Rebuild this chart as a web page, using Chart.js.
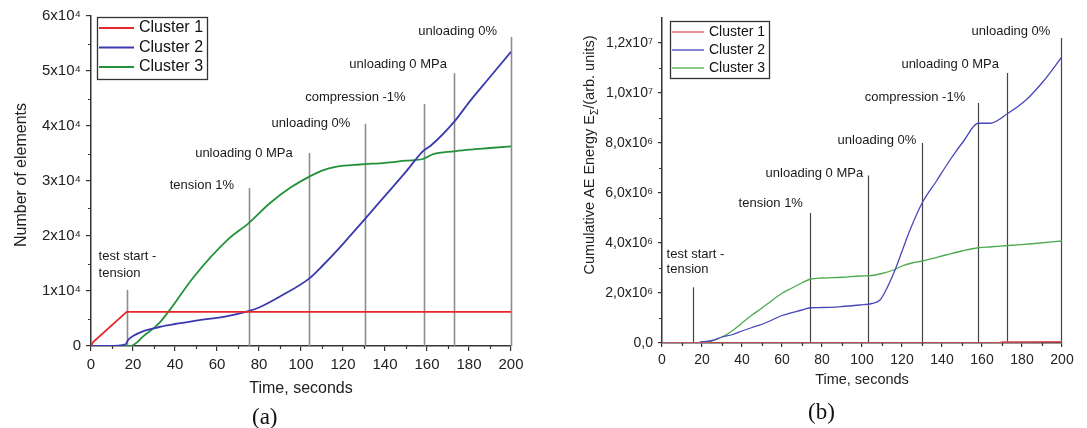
<!DOCTYPE html>
<html>
<head>
<meta charset="utf-8">
<script src="https://cdn.jsdelivr.net/npm/chart.js@4.4.1/dist/chart.umd.min.js"></script>
<style>
  html, body { margin: 0; padding: 0; background: #fff; }
  body { width: 1087px; height: 428px; position: relative; overflow: hidden; }
  #leftBox { position: absolute; left: 0; top: 0; width: 540px; height: 428px; }
  #rightBox { position: absolute; left: 540px; top: 0; width: 547px; height: 428px; }
  .tag { position: absolute; line-height: 26px; font-family: 'Liberation Serif', 'Times New Roman', serif; font-size: 23px; color: #111; }
</style>
</head>
<body>
<div id="leftBox"><canvas id="leftChart" width="540" height="428"></canvas></div>
<div id="rightBox"><canvas id="rightChart" width="547" height="428"></canvas></div>
<div class="tag" style="left:252px; top:404px">(a)</div>
<div class="tag" style="left:808px; top:399px">(b)</div>
<script>
// (a) number of elements
const leftTime1 = [0, 1, 17, 200];
const leftCluster1 = [0, 700, 6200, 6200];
const leftTime2 = [0, 8, 16.5, 17.5, 20, 25, 30, 33, 40, 49, 65, 75, 80, 90, 104, 110, 117, 124, 130, 140, 150, 158, 162, 173, 180, 190, 200];
const leftCluster2 = [0, 0, 300, 1000, 1800, 2700, 3200, 3500, 4000, 4550, 5450, 6350, 7000, 9000, 12300, 14500, 17300, 20300, 22900, 27300, 31700, 35400, 36500, 40800, 44300, 48900, 53500];
const leftTime3 = [0, 19, 22, 25, 30, 33, 37, 49, 65, 75, 85, 95, 104, 110, 117, 128, 140, 150, 158, 163, 173, 180, 190, 200];
const leftCluster3 = [0, 0, 700, 1800, 3300, 4400, 6300, 12600, 19300, 22300, 25900, 28800, 30800, 31900, 32600, 33000, 33300, 33700, 34000, 34900, 35400, 35700, 36000, 36300];
const leftXTickLabels = ['0', '20', '40', '60', '80', '100', '120', '140', '160', '180', '200'];
const leftYTickLabels = ['0', '1x10⁴', '2x10⁴', '3x10⁴', '4x10⁴', '5x10⁴', '6x10⁴'];
const leftMarkTimes = [17, 75, 104, 130.4, 158.5, 173, 200];
const leftMarkTops = [10200, 28700, 35100, 40400, 44000, 49600, 56200];
const leftNoteText = ['test start -', 'tension', 'tension 1%', 'unloading 0 MPa', 'unloading 0%', 'compression -1%', 'unloading 0 MPa', 'unloading 0%'];
const leftNoteTime = [3.6, 3.6, 37.5, 49.6, 86, 102, 123, 155.8];
const leftNoteValue = [16360, 13270, 29200, 35050, 40545, 45270, 51270, 57270];

// (b) cumulative AE energy, values in units of 10^6
const rightTime1 = [0, 168, 170, 200];
const rightCluster1 = [0, 0, 0.04, 0.05];
const rightTime2 = [0, 17, 20, 25, 30, 35, 40, 45, 50, 55, 60, 70, 74, 80, 90, 99, 105, 109, 112, 116.5, 120, 124, 130, 137, 144, 151, 158, 164, 173, 182, 191, 200];
const rightCluster2 = [0, 0, 0.05, 0.1, 0.24, 0.33, 0.48, 0.62, 0.75, 0.92, 1.1, 1.32, 1.41, 1.42, 1.46, 1.52, 1.58, 1.72, 2.12, 2.92, 3.67, 4.52, 5.59, 6.45, 7.32, 8.1, 8.79, 8.79, 9.19, 9.72, 10.5, 11.45];
const rightTime3 = [0, 20, 25, 30, 35, 40, 45, 50, 55, 60, 65, 70, 74, 80, 90, 99, 105, 110, 115.7, 120, 125, 130, 142, 150, 158, 165, 173, 185, 200];
const rightCluster3 = [0, 0, 0.08, 0.24, 0.48, 0.8, 1.12, 1.4, 1.7, 1.99, 2.2, 2.41, 2.55, 2.6, 2.63, 2.68, 2.7, 2.78, 2.92, 3.08, 3.2, 3.28, 3.52, 3.68, 3.81, 3.85, 3.9, 3.97, 4.08];
const rightXTickLabels = ['0', '20', '40', '60', '80', '100', '120', '140', '160', '180', '200'];
const rightYTickLabels = ['0,0', '2,0x10⁶', '4,0x10⁶', '6,0x10⁶', '8,0x10⁶', '1,0x10⁷', '1,2x10⁷'];
const rightMarkTimes = [15.7, 73.9, 103.2, 129.8, 158, 172.5, 199.5];
const rightMarkTops = [2.23, 5.2, 6.7, 8.0, 9.6, 10.8, 12.2];
const rightNoteText = ['test start -', 'tension', 'tension 1%', 'unloading 0 MPa', 'unloading 0%', 'compression -1%', 'unloading 0 MPa', 'unloading 0%'];
const rightNoteTime = [2.3, 2.3, 38.3, 51.8, 87.8, 101.4, 119.7, 154.8];
const rightNoteValue = [3.56, 2.96, 5.6, 6.8, 8.12, 9.84, 11.16, 12.48];

const FONT = "'Liberation Sans', Arial, sans-serif";
const MEGA = 1e6;

function points(times, values, k) {
    return times.map((t, i) => ({ x: t, y: values[i] * (k || 1) }));
}

// vertical markers, notes, minor ticks, y title and the boxed legend
function makeDecor(cfg) {
    return {
        id: 'decor',
        beforeDatasetsDraw(chart) {
            const { ctx, scales: { x, y } } = chart;
            ctx.save();
            ctx.strokeStyle = cfg.markColor;
            ctx.lineWidth = cfg.markWidth;
            cfg.markTimes.forEach((t, i) => {
                const px = Math.round(x.getPixelForValue(t)) + 0.5;
                ctx.beginPath();
                ctx.moveTo(px, y.getPixelForValue(0));
                ctx.lineTo(px, y.getPixelForValue(cfg.markTops[i] * cfg.k));
                ctx.stroke();
            });
            ctx.restore();
        },
        afterDraw(chart) {
            const { ctx, chartArea: area, scales: { x, y } } = chart;
            ctx.save();

            ctx.strokeStyle = '#333';
            ctx.lineWidth = 1.2;
            ctx.beginPath();
            for (let v = cfg.xMinor; v < x.max; v += cfg.xMinor * 2) {
                const px = Math.round(x.getPixelForValue(v)) + 0.5;
                ctx.moveTo(px, area.bottom);
                ctx.lineTo(px, area.bottom + cfg.minorLen);
            }
            for (let v = cfg.yMinor; v < y.max; v += cfg.yMinor * 2) {
                const py = Math.round(y.getPixelForValue(v)) + 0.5;
                ctx.moveTo(area.left, py);
                ctx.lineTo(area.left - cfg.minorLen, py);
            }
            ctx.stroke();

            ctx.font = cfg.noteFont;
            ctx.fillStyle = '#1a1a1a';
            ctx.textAlign = 'left';
            ctx.textBaseline = 'middle';
            cfg.noteText.forEach((s, i) => {
                ctx.fillText(s, x.getPixelForValue(cfg.noteTime[i]), y.getPixelForValue(cfg.noteValue[i] * cfg.k));
            });

            // rotated y title, with an optional subscript part
            const yt = cfg.yTitle;
            ctx.save();
            ctx.translate(yt.x, yt.y);
            ctx.rotate(-Math.PI / 2);
            ctx.fillStyle = '#222';
            ctx.textBaseline = 'middle';
            let total = 0;
            yt.parts.forEach(p => {
                ctx.font = p[1] ? yt.subFont : yt.font;
                total += ctx.measureText(p[0]).width;
            });
            let cx = -total / 2;
            yt.parts.forEach(p => {
                ctx.font = p[1] ? yt.subFont : yt.font;
                ctx.fillText(p[0], cx, p[1] ? yt.subShift : 0);
                cx += ctx.measureText(p[0]).width;
            });
            ctx.restore();

            const lg = cfg.legend;
            const bx = area.left + lg.dx, by = area.top + lg.dy;
            ctx.fillStyle = '#fff';
            ctx.fillRect(bx, by, lg.w, lg.h);
            ctx.strokeStyle = '#333';
            ctx.lineWidth = 1.3;
            ctx.strokeRect(bx + 0.5, by + 0.5, lg.w, lg.h);
            ctx.font = lg.font;
            chart.data.datasets.forEach((ds, i) => {
                const cy = by + lg.row0 + i * lg.rowGap;
                ctx.strokeStyle = ds.borderColor;
                ctx.lineWidth = ds.borderWidth;
                ctx.beginPath();
                ctx.moveTo(bx + 2, cy);
                ctx.lineTo(bx + 2 + lg.line, cy);
                ctx.stroke();
                ctx.fillStyle = '#111';
                ctx.fillText(ds.label, bx + lg.textX, cy);
            });
            ctx.restore();
        }
    };
}

function axes(c) {
    const tickFont = { family: FONT, size: c.tickSize };
    return {
        x: {
            type: 'linear', min: 0, max: 200,
            afterFit(s) { s.height = c.xHeight; },
            ticks: { stepSize: 20, padding: 5, color: '#222', font: tickFont, autoSkip: false, maxRotation: 0,
                callback: (v, i) => c.xLabels[i] },
            grid: { drawOnChartArea: false, drawTicks: true, tickLength: c.tickLen, color: '#333', lineWidth: 1.2 },
            border: { color: '#333', width: 1.5 },
            title: { display: true, text: 'Time, seconds', color: '#222', font: { family: FONT, size: c.titleSize },
                padding: { top: 0, bottom: c.xTitlePad } }
        },
        y: {
            min: 0, max: c.yMax,
            afterFit(s) { s.width = c.yWidth; },
            afterBuildTicks(s) { s.ticks = c.yLabels.map((_, i) => ({ value: i * c.yStep })); },
            ticks: { padding: 5, color: '#222', font: tickFont, autoSkip: false,
                callback: (v, i) => c.yLabels[i] },
            grid: { drawOnChartArea: false, drawTicks: true, tickLength: c.tickLen, color: '#333', lineWidth: 1.2 },
            border: { color: '#333', width: 1.5 }
        }
    };
}

document.addEventListener('DOMContentLoaded', function() {
    new Chart(document.getElementById('leftChart'), {
        type: 'line',
        data: {
            datasets: [
                { label: 'Cluster 1', data: points(leftTime1, leftCluster1), borderColor: '#e5262b', borderWidth: 1.8,
                    cubicInterpolationMode: 'default', tension: 0 },
                { label: 'Cluster 2', data: points(leftTime2, leftCluster2), borderColor: '#3a3aae', borderWidth: 1.8 },
                { label: 'Cluster 3', data: points(leftTime3, leftCluster3), borderColor: '#23913a', borderWidth: 1.8 }
            ]
        },
        options: {
            responsive: false,
            animation: false,
            layout: { padding: { left: 0, right: 29, top: 16, bottom: 30 } },
            elements: { point: { radius: 0 }, line: { cubicInterpolationMode: 'monotone' } },
            plugins: { legend: { display: false }, tooltip: { enabled: false } },
            scales: axes({
                tickSize: 15, titleSize: 16, tickLen: 5, xHeight: 52, yWidth: 91, xTitlePad: 0,
                yMax: 60000, yStep: 10000, xLabels: leftXTickLabels, yLabels: leftYTickLabels
            })
        },
        plugins: [makeDecor({
            k: 1, markTimes: leftMarkTimes, markTops: leftMarkTops, markColor: '#8c8c8c', markWidth: 1.6,
            noteText: leftNoteText, noteTime: leftNoteTime, noteValue: leftNoteValue, noteFont: '13px ' + FONT,
            xMinor: 10, yMinor: 5000, minorLen: 3,
            yTitle: { x: 22, y: 175, font: '16px ' + FONT, subFont: '11px ' + FONT, subShift: 4,
                parts: [['Number of elements', false]] },
            legend: { dx: 6, dy: 1, w: 110, h: 62, row0: 11, rowGap: 19.5, line: 35, textX: 42, font: '16px ' + FONT }
        })]
    });

    new Chart(document.getElementById('rightChart'), {
        type: 'line',
        data: {
            datasets: [
                { label: 'Cluster 1', data: points(rightTime1, rightCluster1, MEGA), borderColor: '#e05458', borderWidth: 1.3,
                    cubicInterpolationMode: 'default', tension: 0 },
                { label: 'Cluster 2', data: points(rightTime2, rightCluster2, MEGA), borderColor: '#4848b8', borderWidth: 1.3 },
                { label: 'Cluster 3', data: points(rightTime3, rightCluster3, MEGA), borderColor: '#4daa4d', borderWidth: 1.3 }
            ]
        },
        options: {
            responsive: false,
            animation: false,
            layout: { padding: { left: 0, right: 25, top: 18, bottom: 37 } },
            elements: { point: { radius: 0 }, line: { cubicInterpolationMode: 'monotone' } },
            plugins: { legend: { display: false }, tooltip: { enabled: false } },
            scales: axes({
                tickSize: 14, titleSize: 14.5, tickLen: 4, xHeight: 48, yWidth: 122, xTitlePad: 2,
                yMax: 13 * MEGA, yStep: 2 * MEGA, xLabels: rightXTickLabels, yLabels: rightYTickLabels
            })
        },
        plugins: [makeDecor({
            k: MEGA, markTimes: rightMarkTimes, markTops: rightMarkTops, markColor: '#444', markWidth: 1.2,
            noteText: rightNoteText, noteTime: rightNoteTime, noteValue: rightNoteValue, noteFont: '13px ' + FONT,
            xMinor: 10, yMinor: MEGA, minorLen: 3,
            yTitle: { x: 50, y: 155, font: '14.5px ' + FONT, subFont: '10px ' + FONT, subShift: 5,
                parts: [['Cumulative AE Energy E', false], ['Σ', true], ['/(arb. units)', false]] },
            legend: { dx: 8, dy: 3, w: 99, h: 57, row0: 11, rowGap: 18, line: 32, textX: 39, font: '14px ' + FONT }
        })]
    });
});
</script>
</body>
</html>
